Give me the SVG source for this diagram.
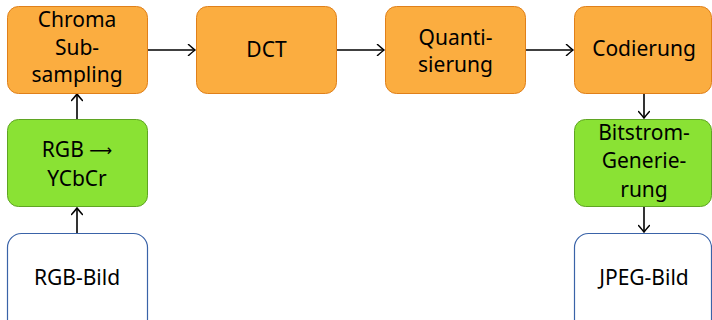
<svg xmlns="http://www.w3.org/2000/svg" width="712" height="320" viewBox="0 0 712 320">
<defs>
<marker id="arr" viewBox="-8 -6 10 12" refX="0" refY="0" markerWidth="10" markerHeight="12" markerUnits="userSpaceOnUse" orient="auto">
<path d="M-6.5,-5.5 Q-2,-1.5 0,0 Q-2,1.5 -6.5,5.5" fill="none" stroke="#000" stroke-width="1.5" stroke-linecap="round"/>
</marker>
<style>
.o{fill:#FBAD40;stroke:#E0801A;stroke-width:1}
.g{fill:#8AE234;stroke:#5FA522;stroke-width:1}
.w{fill:#FFFFFF;stroke:#3A63A8;stroke-width:1.2}
text{font-family:"Noto Sans","Open Sans",sans-serif;font-size:21px;fill:#000;text-anchor:middle}
.a{font-family:"DejaVu Sans",sans-serif;font-size:16px}
.c line{stroke:#000;stroke-width:1.6;marker-end:url(#arr)}
</style>
</defs>
<g class="c" id="connectors">
<line x1="147" y1="50" x2="195" y2="50"/>
<line x1="337" y1="50" x2="384" y2="50"/>
<line x1="526" y1="50" x2="573" y2="50"/>
<line x1="77" y1="119" x2="77" y2="94"/>
<line x1="77" y1="233" x2="77" y2="208"/>
<line x1="644" y1="94" x2="644" y2="118"/>
<line x1="644" y1="207" x2="644" y2="232"/>
</g>
<g id="chroma"><rect class="o" x="7.5" y="6.5" width="140" height="87" rx="11"/>
<text x="77" y="27">Chroma</text><text x="77" y="55">Sub-</text><text x="77" y="82">sampling</text></g>
<g id="dct"><rect class="o" x="196.5" y="6.5" width="140" height="87" rx="11"/>
<text x="266.5" y="57">DCT</text></g>
<g id="quant"><rect class="o" x="385.5" y="6.5" width="140" height="87" rx="11"/>
<text x="455.5" y="45">Quanti-</text><text x="455.5" y="72">sierung</text></g>
<g id="codierung"><rect class="o" x="574.5" y="6.5" width="137" height="87" rx="11"/>
<text x="644" y="56">Codierung</text></g>
<g id="rgb2ycbcr"><rect class="g" x="7.5" y="119.5" width="140" height="87" rx="11"/>
<text x="77" y="157">RGB <tspan class="a" dy="-1">⟶</tspan></text><text x="77" y="186">YCbCr</text></g>
<g id="bitstrom"><rect class="g" x="574.5" y="119.5" width="137" height="87" rx="11"/>
<text x="644" y="140">Bitstrom-</text><text x="644" y="168">Generie-</text><text x="644" y="197">rung</text></g>
<g id="rgbbild"><rect class="w" x="7.5" y="233.5" width="140" height="100" rx="14"/>
<text x="77" y="285">RGB-Bild</text></g>
<g id="jpegbild"><rect class="w" x="574.5" y="233.5" width="137" height="100" rx="14"/>
<text x="644" y="285">JPEG-Bild</text></g>
</svg>
